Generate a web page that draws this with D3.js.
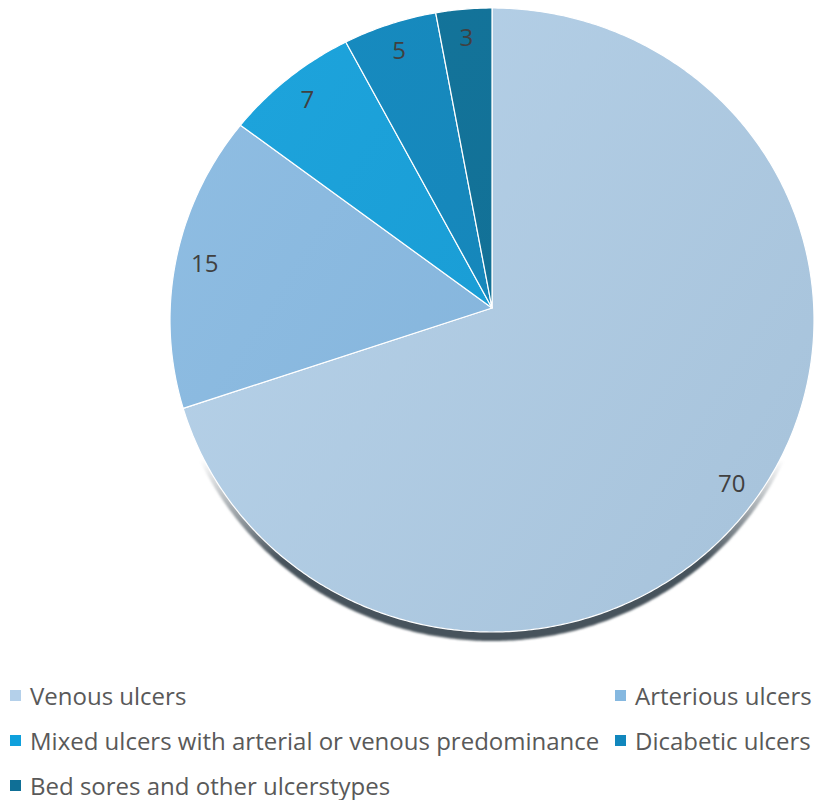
<!DOCTYPE html>
<html>
<head>
<meta charset="utf-8">
<script src="https://cdn.jsdelivr.net/npm/d3@7"></script>
<style>
  html, body { margin: 0; padding: 0; background: #ffffff; }
  svg { display: block; }
</style>
</head>
<body>
<script>
// ---- data ----
const categories = [
  "Venous ulcers",
  "Arterious ulcers",
  "Mixed ulcers with arterial or venous predominance",
  "Dicabetic ulcers",
  "Bed sores and other ulcerstypes"
];
const values = [70, 15, 7, 5, 3];
const colorsLight = ["#b8d3ea", "#90bee3", "#1ea5dd", "#178cc1", "#14769d"];
const colorsDark  = ["#a8c4dc", "#80b1d9", "#1798d0", "#1583b6", "#116d92"];
const legendColors = ["#b4d0ea", "#85b8e0", "#0fa0dc", "#1187bd", "#0f6f96"];

// ---- layout ----
const W = 822, H = 800;
const vertex = { x: 492, y: 308 };     // where slices meet
const ell = { cx: 492, cy: 320, rx: 322, ry: 312 }; // outline of the (tilted) pie
const labelFrac = 0.91;
const fontFamily = "'Open Sans', 'DejaVu Sans', sans-serif";

const svg = d3.select("body").append("svg")
  .attr("width", W).attr("height", H);

const defs = svg.append("defs");
values.forEach((v, i) => {
  const g = defs.append("linearGradient")
    .attr("id", "grad" + i)
    .attr("gradientUnits", "userSpaceOnUse")
    .attr("x1", ell.cx - ell.rx).attr("y1", ell.cy - ell.ry)
    .attr("x2", ell.cx + ell.rx).attr("y2", ell.cy + ell.ry * 0.3);
  g.append("stop").attr("offset", "0%").attr("stop-color", colorsLight[i]);
  g.append("stop").attr("offset", "100%").attr("stop-color", colorsDark[i]);
});
defs.append("filter").attr("id", "soft")
  .append("feGaussianBlur").attr("stdDeviation", 0.8);

// fade-out mask for the shadow at the sides
const mg = defs.append("linearGradient")
  .attr("id", "shadowFade")
  .attr("gradientUnits", "userSpaceOnUse")
  .attr("x1", 0).attr("y1", ell.cy + 140)
  .attr("x2", 0).attr("y2", ell.cy + 240);
mg.append("stop").attr("offset", "0%").attr("stop-color", "#fff").attr("stop-opacity", 0);
mg.append("stop").attr("offset", "100%").attr("stop-color", "#fff").attr("stop-opacity", 1);
defs.append("mask").attr("id", "shadowMask")
  .attr("maskUnits", "userSpaceOnUse")
  .attr("x", 0).attr("y", 0).attr("width", W).attr("height", H)
  .append("rect")
  .attr("x", 0).attr("y", 0).attr("width", W).attr("height", H)
  .attr("fill", "url(#shadowFade)");

// distance from vertex to ellipse outline along angle a (0 = up, clockwise)
function boundary(a) {
  const dx = Math.sin(a), dy = -Math.cos(a);
  const px = vertex.x - ell.cx, py = vertex.y - ell.cy;
  const A = dx * dx / (ell.rx * ell.rx) + dy * dy / (ell.ry * ell.ry);
  const B = 2 * (px * dx / (ell.rx * ell.rx) + py * dy / (ell.ry * ell.ry));
  const C = px * px / (ell.rx * ell.rx) + py * py / (ell.ry * ell.ry) - 1;
  return (-B + Math.sqrt(B * B - 4 * A * C)) / (2 * A);
}
function pointAt(a, frac) {
  const t = boundary(a) * frac;
  return [vertex.x + Math.sin(a) * t, vertex.y - Math.cos(a) * t];
}

const pie = d3.pie().sort(null).value(d => d);
const arcs = pie(values);

const line = d3.line();
function slicePath(d) {
  const n = Math.max(8, Math.ceil((d.endAngle - d.startAngle) / 0.01));
  const pts = [[vertex.x, vertex.y]];
  for (let k = 0; k <= n; k++) {
    const a = d.startAngle + (d.endAngle - d.startAngle) * k / n;
    pts.push(pointAt(a, 1));
  }
  return line(pts) + "Z";
}

// shadow under the pie (3-D edge)
svg.append("g").attr("mask", "url(#shadowMask)")
  .append("path")
  .attr("d", slicePath(arcs[0]))
  .attr("transform", "translate(0,9)")
  .attr("fill", "#47525b")
  .attr("filter", "url(#soft)");

// slices
svg.append("g").selectAll("path")
  .data(arcs)
  .join("path")
  .attr("d", slicePath)
  .attr("fill", (d, i) => `url(#grad${i})`)
  .attr("stroke", "#ffffff")
  .attr("stroke-width", 1.2)
  .attr("stroke-linejoin", "round");

// data labels
svg.append("g").selectAll("text")
  .data(arcs)
  .join("text")
  .attr("x", d => pointAt((d.startAngle + d.endAngle) / 2, labelFrac)[0])
  .attr("y", d => pointAt((d.startAngle + d.endAngle) / 2, labelFrac)[1])
  .attr("text-anchor", "middle")
  .attr("dominant-baseline", "central")
  .attr("font-family", fontFamily)
  .attr("font-size", 24)
  .attr("fill", "#404040")
  .text(d => d.data);

// legend
const legendCols = [10, 615];
const legendRowY = [695, 740, 785];
const legend = svg.append("g");
categories.forEach((c, i) => {
  const col = i % 2, row = Math.floor(i / 2);
  const g = legend.append("g")
    .attr("transform", `translate(${legendCols[col]},${legendRowY[row]})`);
  g.append("rect")
    .attr("x", 0).attr("y", -5)
    .attr("width", 11).attr("height", 11)
    .attr("fill", legendColors[i]);
  g.append("text")
    .attr("x", 20).attr("y", 0)
    .attr("dominant-baseline", "central")
    .attr("font-family", fontFamily)
    .attr("font-size", 24)
    .attr("fill", "#595959")
    .text(c);
});
</script>
</body>
</html>
